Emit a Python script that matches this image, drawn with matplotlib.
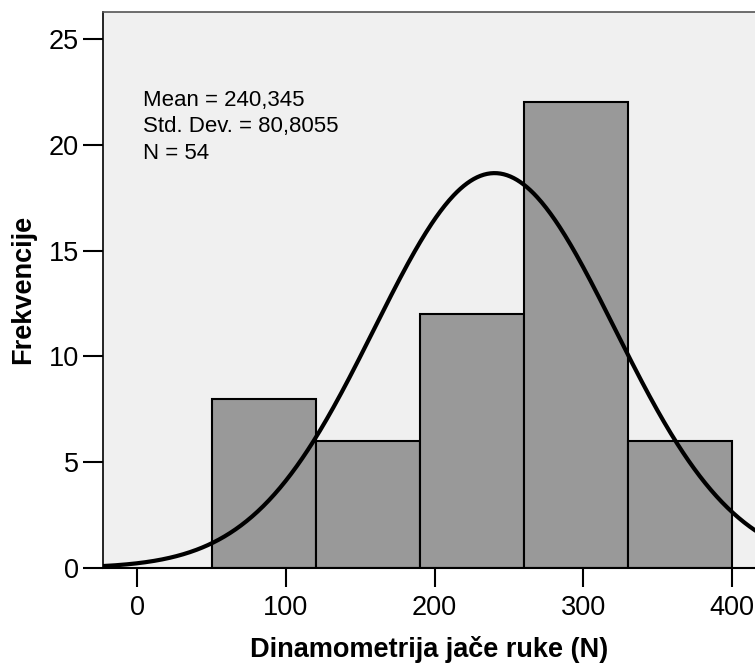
import numpy as np
import matplotlib
matplotlib.use("Agg")
import matplotlib.pyplot as plt

bin_edges = [50, 120, 190, 260, 330, 400]
counts = [8, 6, 12, 22, 6]
mean = 240.345
std = 80.8055
n = 54
x_ticks = [0, 100, 200, 300, 400]
y_ticks = [0, 5, 10, 15, 20, 25]

plt.rcParams['font.family'] = ['Liberation Sans', 'DejaVu Sans']

fig = plt.figure(figsize=(7.55, 6.64), dpi=100)
ax = fig.add_axes([103/755, 1 - 568/664, 1 - 103/755, (568 - 11.5)/664])
ax.set_facecolor('#f0f0f0')

widths = np.diff(bin_edges)
ax.bar(bin_edges[:-1], counts, width=widths, align='edge', color='#999999',
       edgecolor='black', linewidth=1.5, zorder=2)

xlim = (-23, 415.5)
xs = np.linspace(xlim[0], xlim[1] + 10, 600)
bw = widths[0]
ys = n * bw / (std * np.sqrt(2 * np.pi)) * np.exp(-0.5 * ((xs - mean) / std) ** 2)
ax.plot(xs, ys, color='black', linewidth=3.0, zorder=3, solid_capstyle='butt')

ax.set_xlim(*xlim)
ax.set_ylim(0, 26.3)
ax.set_xticks(x_ticks)
ax.set_yticks(y_ticks)
ax.tick_params(axis='x', length=14, width=1.5, pad=5.5, labelsize=19.5, direction='out')
ax.tick_params(axis='y', length=14.5, width=1.5, pad=3, labelsize=19.5, direction='out')

ax.spines['right'].set_visible(False)
ax.spines['top'].set_color('#555555')
ax.spines['top'].set_linewidth(1.2)
ax.spines['left'].set_linewidth(1.2)
ax.spines['bottom'].set_linewidth(1.5)

ax.set_xlabel('Dinamometrija jače ruke (N)', fontsize=19.5, fontweight='bold', labelpad=11)
ax.set_ylabel('Frekvencije', fontsize=19.5, fontweight='bold', labelpad=9)

mean_s = f'{mean:.3f}'.replace('.', ',')
std_s = f'{std:.4f}'.replace('.', ',')
ax.text(0.062, 0.859, f'Mean = {mean_s}\nStd. Dev. = {std_s}\nN = {n}',
        transform=ax.transAxes, fontsize=16, va='top', ha='left', linespacing=1.33)

fig.savefig('out.png', dpi=100)
